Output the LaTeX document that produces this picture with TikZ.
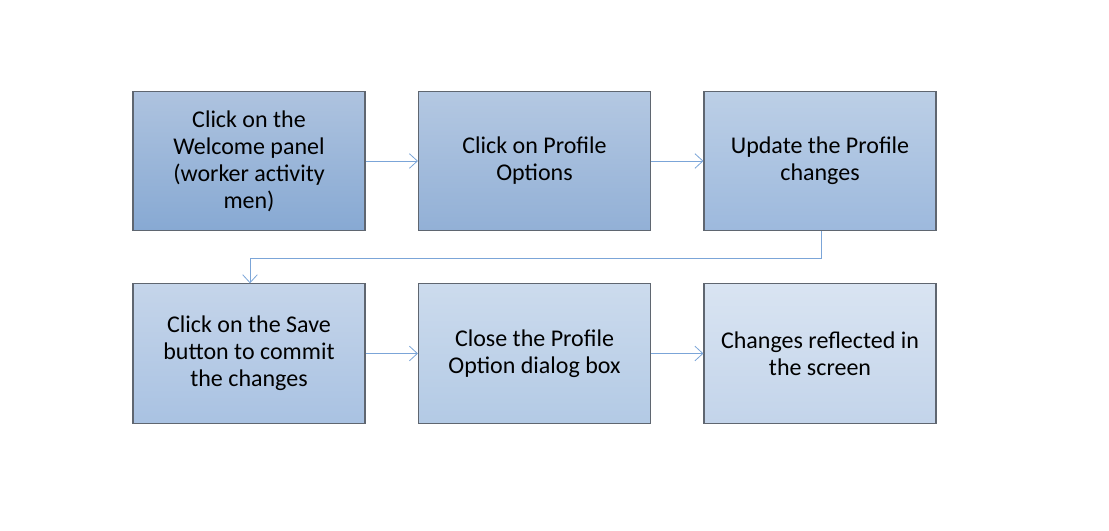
\documentclass[tikz,border=0pt]{standalone}
\usepackage{fontspec}
\setmainfont{Carlito}
\usetikzlibrary{arrows.meta}
\definecolor{bordc}{HTML}{5F6670}
\definecolor{arrc}{HTML}{7BA5D8}
\definecolor{t1}{HTML}{AEC3DF}\definecolor{b1}{HTML}{87A9D3}
\definecolor{t2}{HTML}{B4C8E2}\definecolor{b2}{HTML}{92B0D6}
\definecolor{t3}{HTML}{BCCFE6}\definecolor{b3}{HTML}{9DB9DD}
\definecolor{t4}{HTML}{C5D5EA}\definecolor{b4}{HTML}{A9C2E2}
\definecolor{t5}{HTML}{CCDBED}\definecolor{b5}{HTML}{B3CAE5}
\definecolor{t6}{HTML}{D9E4F2}\definecolor{b6}{HTML}{C3D4EA}
\tikzset{
  stepbox/.style={draw=bordc, line width=0.8pt, minimum width=174pt, minimum height=104.5pt,
    align=center, inner sep=2pt, font=\fontsize{18}{20.3}\selectfont},
  flow/.style={draw=arrc, line width=0.6pt, -{Straight Barb[length=6pt,width=11pt,line width=0.6pt]}}
}
\begin{document}
\begin{tikzpicture}[x=0.75pt,y=-0.75pt]
\useasboundingbox (0,0) rectangle (1109,531);
\node[stepbox, top color=t1, bottom color=b1] (a) at (249,161) {Click on the\\Welcome panel\\(worker activity\\men)};
\node[stepbox, top color=t2, bottom color=b2] (b) at (534.5,161) {Click on Profile\\Options};
\node[stepbox, top color=t3, bottom color=b3] (c) at (820,161) {Update the Profile\\changes};
\node[stepbox, top color=t4, bottom color=b4] (d) at (249,353.5) {Click on the Save\\button to commit\\the changes};
\node[stepbox, top color=t5, bottom color=b5] (e) at (534.5,353.5) {Close the Profile\\Option dialog box};
\node[stepbox, top color=t6, bottom color=b6] (f) at (820,353.5) {Changes reflected in\\the screen};
\coordinate (k1) at (821,258);
\coordinate (k2) at (250,258);
\draw[flow] (a.east) -- (b.west);
\draw[flow] (b.east) -- (c.west);
\draw[flow] (c.south -| k1) -- (k1) -- (k2) -- (d.north -| k2);
\draw[flow] (d.east) -- (e.west);
\draw[flow] (e.east) -- (f.west);
\end{tikzpicture}
\end{document}
